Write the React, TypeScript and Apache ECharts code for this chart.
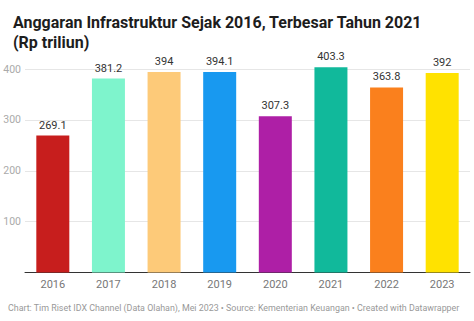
import React, { useEffect, useRef } from "react";
import * as echarts from "echarts";

const categories = ["2016", "2017", "2018", "2019", "2020", "2021", "2022", "2023"];
const values = [269.1, 381.2, 394, 394.1, 307.3, 403.3, 363.8, 392];
const labels = ["269.1", "381.2", "394", "394.1", "307.3", "403.3", "363.8", "392"];
const colors = ["#c71e1d", "#7ef4cc", "#fdca79", "#1899f0", "#ae1fa6", "#11b99b", "#fa801d", "#ffe200"];
const yTicks = [0, 100, 200, 300, 400];

const titleText = "Anggaran Infrastruktur Sejak 2016, Terbesar Tahun 2021\n(Rp triliun)";
const footerText =
  "Chart: Tim Riset IDX Channel (Data Olahan), Mei 2023 \u2022 Source: Kementerian Keuangan \u2022 Created with Datawrapper";

export default function App() {
  const ref = useRef<HTMLDivElement>(null);
  useEffect(() => {
    if (!ref.current) return;
    const chart = echarts.init(ref.current, null, { renderer: "svg" });
    chart.setOption({
      animation: false,
      backgroundColor: "#ffffff",
      title: {
        text: titleText,
        left: 8,
        top: 7,
        textStyle: {
          fontFamily: "Roboto",
          fontWeight: "bold",
          fontSize: 16,
          lineHeight: 20,
          color: "#1d1d1d",
        },
      },
      graphic: [
        {
          type: "text",
          left: 8,
          top: 303,
          style: {
            text: footerText,
            fontFamily: "Roboto",
            fontSize: 8.9,
            fill: "#999999",
          },
        },
      ],
      grid: { left: 25, right: 4, top: 69, bottom: 48.5, containLabel: false },
      xAxis: {
        type: "category",
        data: categories,
        axisTick: { show: false },
        axisLine: { show: true, lineStyle: { color: "#333333", width: 1 } },
        axisLabel: { color: "#777777", fontFamily: "Roboto", fontSize: 11, margin: 6 },
      },
      yAxis: {
        type: "value",
        min: 0,
        max: 400,
        interval: 100,
        axisLine: { show: false },
        axisTick: { show: false },
        axisLabel: {
          color: "#aaaaaa",
          fontFamily: "Roboto",
          fontSize: 10.5,
          margin: 4,
          formatter: (v: number) => (v === 0 || !yTicks.includes(v) ? "" : String(v)),
        },
        splitLine: { lineStyle: { color: "#e6e6e6", width: 1 } },
      },
      series: [
        {
          type: "bar",
          clip: false,
          barWidth: 33,
          data: values.map((v, i) => ({ value: v, itemStyle: { color: colors[i] } })),
          label: {
            show: true,
            position: "top",
            distance: 5,
            color: "#333333",
            fontFamily: "Roboto",
            fontSize: 11,
            formatter: (p: any) => labels[p.dataIndex],
          },
        },
      ],
    });
    return () => chart.dispose();
  }, []);
  return <div ref={ref} style={{ width: 474, height: 321, position: "absolute", left: 0, top: 0 }} />;
}
